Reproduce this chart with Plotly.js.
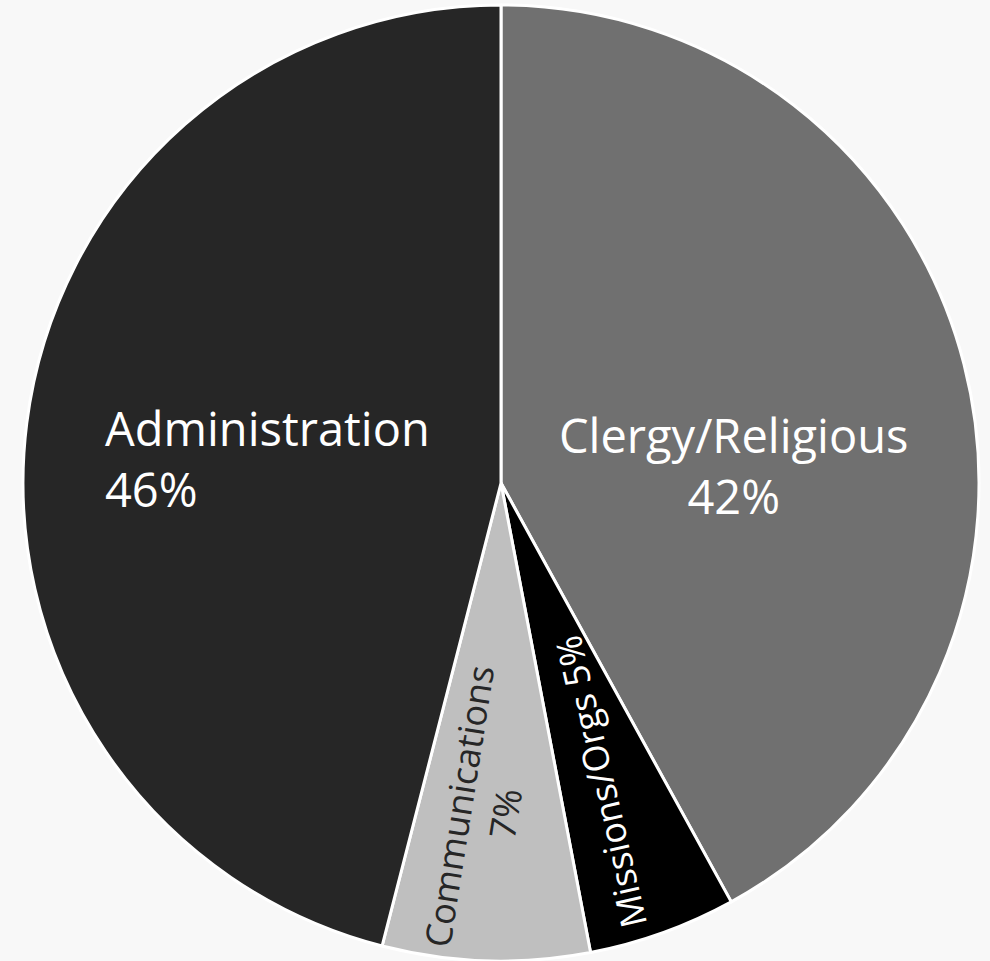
<!DOCTYPE html>
<html>
<head>
<meta charset="utf-8">
<script src="https://cdn.plot.ly/plotly-3.0.1.min.js"></script>
<style>html,body{margin:0;padding:0;background:#f8f8f8;}#chart{width:990px;height:961px;}</style>
</head>
<body>
<div id="chart"></div>
<script>
const labels = ["Clergy/Religious", "Missions/Orgs", "Communications", "Administration"];
const values = [42, 5, 7, 46];
const colors = ["#707070", "#000000", "#bfbfbf", "#262626"];
const textColors = ["#ffffff", "#ffffff", "#262626", "#ffffff"];

const W = 990, H = 961;
const px = x => x / W;
const py = y => 1 - y / H;

// annotation layout per slice: [x px, y px, textangle, font size, xanchor, align, separator]
const labelLayout = [
  [733, 466, 0, 47, "center", "center", "<br>"],
  [600, 782, -103, 36, "center", "center", " "],
  [482, 810, -81, 36, "center", "center", "<br>"],
  [103, 459, 0, 47, "left", "left", "<br>"]
];
const total = values.reduce((a, b) => a + b, 0);
const annotations = labels.map((lab, i) => {
  const L = labelLayout[i];
  return {
    x: px(L[0]), y: py(L[1]), xref: "paper", yref: "paper",
    text: lab + L[6] + Math.round(values[i] / total * 100) + "%",
    showarrow: false, textangle: L[2], xanchor: L[4], yanchor: "middle", align: L[5],
    font: {family: "Open Sans, sans-serif", size: L[3], color: textColors[i]}
  };
});

Plotly.newPlot("chart", [{
  type: "pie",
  labels: labels,
  values: values,
  sort: false,
  direction: "clockwise",
  rotation: 0,
  textinfo: "none",
  hoverinfo: "label+percent",
  marker: {colors: colors, line: {color: "#ffffff", width: 3}},
  domain: {x: [22 / W, 980 / W], y: [0, 956 / H]},
  showlegend: false
}], {
  width: W, height: H,
  margin: {l: 0, r: 0, t: 0, b: 0},
  paper_bgcolor: "#f8f8f8",
  plot_bgcolor: "#f8f8f8",
  showlegend: false,
  annotations: annotations
}, {displayModeBar: false, staticPlot: true});
</script>
</body>
</html>
